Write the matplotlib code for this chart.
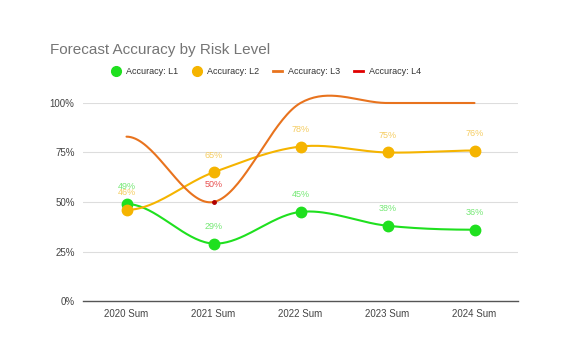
import numpy as np
import matplotlib
matplotlib.use("Agg")
import matplotlib.pyplot as plt
from matplotlib.lines import Line2D

categories = ["2020 Sum", "2021 Sum", "2022 Sum", "2023 Sum", "2024 Sum"]
acc_l1 = [49, 29, 45, 38, 36]
acc_l2 = [46, 65, 78, 75, 76]
acc_l3 = [83, 50, 100, 100, 100]
acc_l4 = [None, 50, None, None, None]
series_names = ["Accuracy: L1", "Accuracy: L2", "Accuracy: L3", "Accuracy: L4"]
yticks = [0, 25, 50, 75, 100]

plt.rcParams['font.family'] = ['Liberation Sans', 'DejaVu Sans']

def smooth(xs, ys, n=40):
    xs = np.asarray(xs, float); ys = np.asarray(ys, float)
    m = np.zeros_like(ys)
    for i in range(1, len(ys) - 1):
        m[i] = (ys[i+1] - ys[i-1]) / 2.0
    X, Y = [], []
    for i in range(len(ys) - 1):
        t = np.linspace(0, 1, n)
        h00 = 2*t**3 - 3*t**2 + 1
        h10 = t**3 - 2*t**2 + t
        h01 = -2*t**3 + 3*t**2
        h11 = t**3 - t**2
        Y.append(h00*ys[i] + h10*m[i] + h01*ys[i+1] + h11*m[i+1])
        X.append(xs[i] + t*(xs[i+1]-xs[i]))
    return np.concatenate(X), np.concatenate(Y)

fig = plt.figure(figsize=(5.63, 3.53), dpi=100)
ax = fig.add_axes([83/563, 52/353, 435/563, 198/353])
x = np.arange(len(categories))

c1, c2, c3, c4 = "#1fe01f", "#f5b400", "#e8731e", "#e00000"
l1c, l2c, l4c = "#74e874", "#f5cc60", "#e85050"

for ys, c, z in [(acc_l1, c1, 3), (acc_l2, c2, 4), (acc_l3, c3, 5)]:
    sx, sy = smooth(x, ys)
    ax.plot(sx, sy, color=c, lw=1.5, zorder=z, clip_on=False, solid_capstyle='round')

ax.plot(x, acc_l1, 'o', color=c1, ms=7.5, zorder=6, clip_on=False)
ax.plot(x, acc_l2, 'o', color=c2, ms=7.5, zorder=7, clip_on=False)
x4 = [i for i, v in enumerate(acc_l4) if v is not None]
y4 = [v for v in acc_l4 if v is not None]
ax.plot(x4, y4, 'o', color="#b00000", ms=2.5, zorder=8, clip_on=False)

for xi, v in zip(x, acc_l1):
    ax.annotate(f"{v}%", (xi, v), xytext=(0, 9), textcoords='offset points',
                ha='center', va='bottom', fontsize=6.5, color=l1c, zorder=9)
for xi, v in zip(x, acc_l2):
    ax.annotate(f"{v}%", (xi, v), xytext=(0, 9), textcoords='offset points',
                ha='center', va='bottom', fontsize=6.5, color=l2c, zorder=9)
for xi, v in zip(x4, y4):
    ax.annotate(f"{v}%", (xi, v), xytext=(0, 9), textcoords='offset points',
                ha='center', va='bottom', fontsize=6.5, color=l4c, zorder=9)

ax.set_xlim(-0.5, len(categories) - 0.5)
ax.set_ylim(0, 100)
ax.set_yticks(yticks)
ax.set_yticklabels([f"{t}%" for t in yticks])
ax.set_xticks(x)
ax.set_xticklabels(categories)
ax.tick_params(length=0, labelsize=7, colors="#444444", pad=6)
for s in ["top", "right", "left"]:
    ax.spines[s].set_visible(False)
ax.spines["bottom"].set_color("#555555")
ax.spines["bottom"].set_linewidth(1)
ax.grid(axis='y', color="#dddddd", lw=0.8)
ax.set_axisbelow(True)

fig.text(50/563, 1 - 50/353, "Forecast Accuracy by Risk Level", fontsize=11,
         color="#757575", ha='left', va='center')

handles = [
    Line2D([], [], marker='o', color=c1, ls='none', ms=7),
    Line2D([], [], marker='o', color=c2, ls='none', ms=7),
    Line2D([], [], color=c3, lw=2),
    Line2D([], [], color=c4, lw=2),
]
fig.legend(handles, series_names, loc='center', bbox_to_anchor=(266/563, 1 - 72/353),
           ncol=4, frameon=False, fontsize=6.5, handlelength=1.0, handletextpad=0.6,
           columnspacing=1.6, labelcolor="#333333")

fig.savefig("out.png", dpi=100)
